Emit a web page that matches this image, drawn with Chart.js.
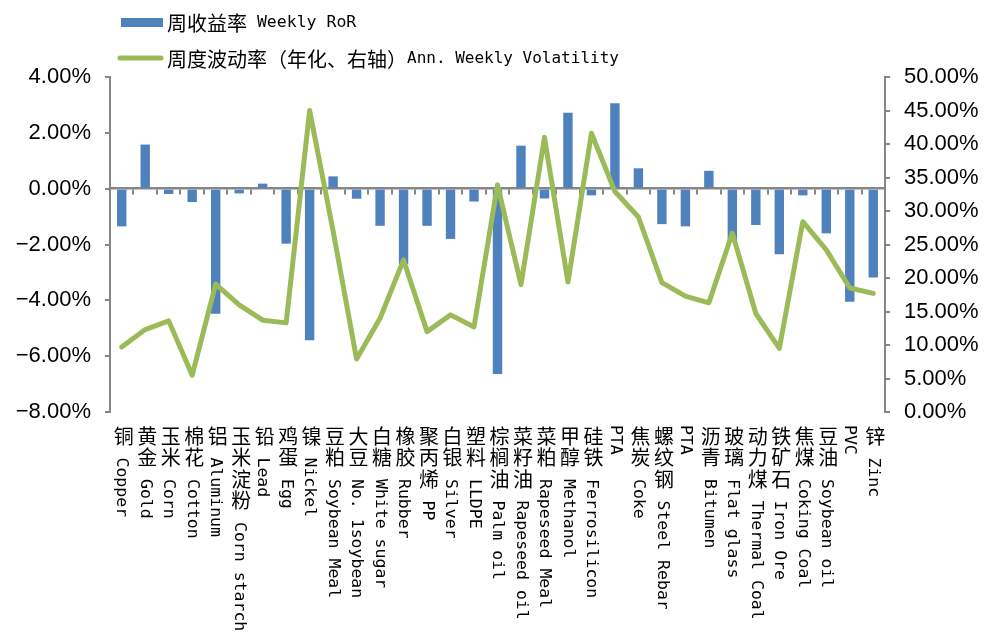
<!DOCTYPE html>
<html>
<head>
<meta charset="utf-8">
<script src="https://cdn.jsdelivr.net/npm/chart.js@4.4.1/dist/chart.umd.min.js"></script>
<style>
  body { margin: 0; background: #fff; }
  #wrap { position: relative; width: 987px; height: 637px; }
</style>
</head>
<body>
<div id="wrap"><canvas id="chart"></canvas></div>
<script>
const categoriesCn = ['铜', '黄金', '玉米', '棉花', '铝', '玉米淀粉', '铅', '鸡蛋', '镍', '豆粕', '大豆',
    '白糖', '橡胶', '聚丙烯', '白银', '塑料', '棕榈油', '菜籽油', '菜粕', '甲醇', '硅铁', '',
    '焦炭', '螺纹钢', '', '沥青', '玻璃', '动力煤', '铁矿石', '焦煤', '豆油', '', '锌'];
const categoriesEn = ['Copper', 'Gold', 'Corn', 'Cotton', 'Aluminum', 'Corn starch', 'Lead', 'Egg', 'Nickel',
    'Soybean Meal', 'No. 1soybean', 'White sugar', 'Rubber', 'PP', 'Silver', 'LLDPE', 'Palm oil',
    'Rapeseed oil', 'Rapeseed Meal', 'Methanol', 'Ferrosilicon', 'PTA', 'Coke', 'Steel Rebar', 'PTA',
    'Bitumen', 'Flat glass', 'Thermal Coal', 'Iron Ore', 'Coking Coal', 'Soybean oil', 'PVC', 'Zinc'];

// 周收益率 (%), left axis
const weeklyRor = [-1.35, 1.58, -0.19, -0.48, -4.48, -0.17, 0.18, -1.97, -5.43, 0.44, -0.36,
    -1.33, -2.7, -1.33, -1.8, -0.46, -6.64, 1.54, -0.35, 2.72, -0.24, 3.06,
    0.73, -1.27, -1.35, 0.64, -1.9, -1.3, -2.35, -0.24, -1.6, -4.05, -3.18];
// 周度波动率 年化 (%), right axis
const weeklyVol = [9.7, 12.3, 13.6, 5.5, 19.1, 16.0, 13.7, 13.3, 45.0, 27.0, 7.9,
    14.0, 22.7, 12.0, 14.5, 12.7, 33.9, 19.0, 41.0, 19.4, 41.6, 32.9,
    29.1, 19.3, 17.3, 16.3, 26.7, 14.7, 9.5, 28.4, 24.2, 18.5, 17.7];

const rorTicks = [-8, -6, -4, -2, 0, 2, 4];
const volTicks = [0, 5, 10, 15, 20, 25, 30, 35, 40, 45, 50];

const rorLabel = '周收益率 Weekly RoR';
const volLabel = '周度波动率（年化、右轴）Ann. Weekly Volatility';

const axisGray = '#868686';
const cnFont = '20px "Noto Sans CJK SC"';
const enFont = '16.5px "DejaVu Sans Mono"';

function pct(v) {
    return (v < 0 ? '\u2212' : '') + Math.abs(v).toFixed(2) + '%';
}

function drawMixed(ctx, text, x, y, cjk, latin) {
    for (const ch of text) {
        ctx.font = ch.charCodeAt(0) > 0x2e80 ? cjk : latin;
        ctx.fillText(ch, x, y);
        x += ctx.measureText(ch).width;
    }
}

const labelsAndLegend = {
    id: 'labelsAndLegend',
    afterDraw(chart) {
        const ctx = chart.ctx;
        const xs = chart.scales.x;
        ctx.save();
        ctx.fillStyle = '#000';

        // category labels: chinese upright, english turned
        categoriesEn.forEach((en, i) => {
            const cx = xs.getPixelForValue(i);
            const cn = categoriesCn[i];
            ctx.font = cnFont;
            ctx.textAlign = 'center';
            ctx.textBaseline = 'middle';
            [...cn].forEach((ch, k) => ctx.fillText(ch, cx + 2, 436 + 21.5 * k));

            const start = cn.length ? 436 + 21.5 * cn.length : 425;
            ctx.save();
            ctx.translate(cx, start);
            ctx.rotate(Math.PI / 2);
            ctx.font = enFont;
            ctx.textAlign = 'left';
            ctx.fillText(en, 0, 0);
            ctx.restore();
        });

        // legend
        const ds = chart.data.datasets;
        ctx.textAlign = 'left';
        ctx.textBaseline = 'middle';
        ctx.fillStyle = ds[0].backgroundColor;
        ctx.fillRect(121, 18, 42, 9);
        ctx.strokeStyle = ds[1].borderColor;
        ctx.lineWidth = 5;
        ctx.lineCap = 'round';
        ctx.beginPath();
        ctx.moveTo(120, 58);
        ctx.lineTo(161, 58);
        ctx.stroke();
        ctx.fillStyle = '#000';
        drawMixed(ctx, ds[0].label, 167, 23, '20px "Noto Sans CJK SC"', '16.5px "DejaVu Sans Mono"');
        drawMixed(ctx, ds[1].label, 167, 59, '20px "Noto Sans CJK SC"', '16px "DejaVu Sans Mono"');
        ctx.restore();
    }
};

function initChart() {
    const ctx = document.getElementById('chart').getContext('2d');

    new Chart(ctx, {
        type: 'bar',
        data: {
            labels: categoriesEn,
            datasets: [{
                type: 'bar',
                label: rorLabel,
                data: weeklyRor,
                backgroundColor: '#4F81BD',
                categoryPercentage: 1,
                barPercentage: 0.4,
                yAxisID: 'y',
                order: 1
            }, {
                type: 'line',
                label: volLabel,
                data: weeklyVol,
                borderColor: '#9BBB59',
                borderWidth: 5,
                borderJoinStyle: 'round',
                borderCapStyle: 'round',
                pointRadius: 0,
                tension: 0,
                yAxisID: 'y1',
                order: 0
            }]
        },
        options: {
            responsive: true,
            maintainAspectRatio: false,
            animation: false,
            layout: { padding: { top: 77, bottom: 225, left: 0, right: 0 } },
            plugins: {
                legend: { display: false },
                tooltip: { enabled: false }
            },
            scales: {
                x: {
                    type: 'category',
                    position: { y: 0 },
                    offset: true,
                    ticks: { display: false },
                    grid: {
                        offset: true,
                        drawOnChartArea: false,
                        drawTicks: true,
                        tickLength: 5,
                        color: axisGray,
                        lineWidth: 2
                    },
                    border: { color: axisGray, width: 2.5 }
                },
                y: {
                    position: 'left',
                    min: rorTicks[0],
                    max: rorTicks[rorTicks.length - 1],
                    afterBuildTicks: s => { s.ticks = rorTicks.map(v => ({ value: v })); },
                    afterFit: s => { s.width = 110; },
                    ticks: {
                        callback: v => pct(v),
                        color: '#000',
                        padding: 14,
                        font: { family: 'Liberation Sans', size: 22 }
                    },
                    grid: { drawOnChartArea: false, tickLength: 5, color: axisGray, lineWidth: 2 },
                    border: { color: axisGray, width: 2 }
                },
                y1: {
                    position: 'right',
                    min: volTicks[0],
                    max: volTicks[volTicks.length - 1],
                    afterBuildTicks: s => { s.ticks = volTicks.map(v => ({ value: v })); },
                    afterFit: s => { s.width = 102; },
                    ticks: {
                        callback: v => pct(v),
                        color: '#000',
                        padding: 14,
                        font: { family: 'Liberation Sans', size: 22 }
                    },
                    grid: { drawOnChartArea: false, tickLength: 5, color: axisGray, lineWidth: 2 },
                    border: { color: axisGray, width: 2 }
                }
            }
        },
        plugins: [labelsAndLegend]
    });
}

initChart();
</script>
</body>
</html>
